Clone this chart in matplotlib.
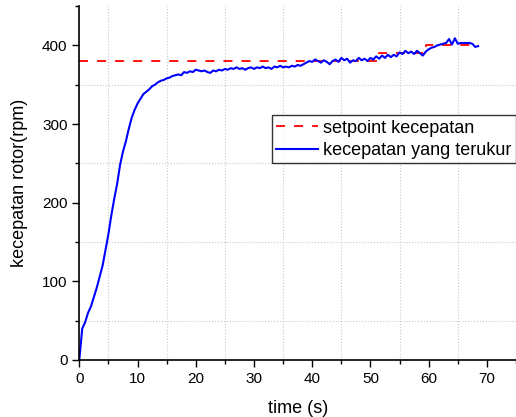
import numpy as np
import matplotlib.pyplot as plt
from matplotlib.ticker import MultipleLocator

plt.rcParams['font.family'] = ['Liberation Sans', 'DejaVu Sans']

# measured speed, sampled every 0.5 s
time_s = np.arange(0, 68.6, 0.5)
speed = [0, 40, 48, 60, 68, 80, 92, 106, 120, 140,
         160, 184, 205, 224, 248, 265, 278, 294, 308, 318,
         326, 332, 338, 341, 344, 348, 350, 353, 355, 356,
         358, 359, 361, 362, 363, 362, 366, 365, 367, 366,
         369, 368, 367, 368, 366, 365, 368, 367, 369, 368,
         370, 369, 371, 370, 372, 370, 371, 369, 371, 372,
         370, 372, 371, 373, 371, 372, 370, 373, 372, 374,
         372, 373, 372, 374, 373, 375, 374, 376, 378, 380,
         379, 382, 380, 378, 381, 379, 376, 380, 382, 379,
         384, 381, 383, 378, 381, 380, 384, 381, 383, 380,
         384, 382, 386, 383, 387, 384, 388, 385, 388, 386,
         391, 389, 393, 390, 392, 389, 393, 390, 387, 392,
         395, 397, 398, 400, 401, 402, 403, 408, 401, 409,
         402, 403, 403, 403, 403, 402, 398, 399]

# setpoint steps
sp_time = [0, 51.5, 51.5, 59.5, 59.5, 68.4]
sp_value = [380, 380, 390, 390, 400, 400]

fig = plt.figure(figsize=(5.16, 4.17), dpi=100)
ax = fig.add_axes([0.1537, 0.1367, 0.8463, 0.8489])

# dotted grid only at the minor positions
for gx in [5, 15, 25, 35, 45, 55, 65]:
    ax.axvline(gx, color='#c8c8c8', linestyle=':', linewidth=0.8, zorder=0)
for gy in [50, 150, 250, 350]:
    ax.axhline(gy, color='#c8c8c8', linestyle=':', linewidth=0.8, zorder=0)

ax.plot(sp_time, sp_value, color='red', lw=1.3, dashes=(5, 5),
        label='setpoint kecepatan')
ax.plot(time_s, speed, color='blue', lw=1.5, label='kecepatan yang terukur')

ax.set_xlim(0, 75)
ax.set_ylim(0, 450)
ax.xaxis.set_major_locator(MultipleLocator(10))
ax.xaxis.set_minor_locator(MultipleLocator(5))
ax.yaxis.set_major_locator(MultipleLocator(100))
ax.yaxis.set_minor_locator(MultipleLocator(50))
ax.tick_params(which='major', direction='out', length=5, width=1, labelsize=11)
ax.tick_params(which='minor', direction='out', length=3, width=1)

for side in ['top', 'right']:
    ax.spines[side].set_visible(False)
ax.spines['left'].set_linewidth(1.2)
ax.spines['bottom'].set_linewidth(1.2)

ax.set_xlabel('time (s)', fontsize=13, labelpad=10)
ax.set_ylabel('kecepatan rotor(rpm)', fontsize=13, labelpad=10)

leg = ax.legend(loc='upper right', bbox_to_anchor=(1.0, 0.692), borderaxespad=0,
                fontsize=13, frameon=True, fancybox=False, edgecolor='black',
                handlelength=2.3, handletextpad=0.3, borderpad=0.25,
                labelspacing=0.3)
leg.get_frame().set_linewidth(1.0)

fig.savefig('out.png', dpi=100)
